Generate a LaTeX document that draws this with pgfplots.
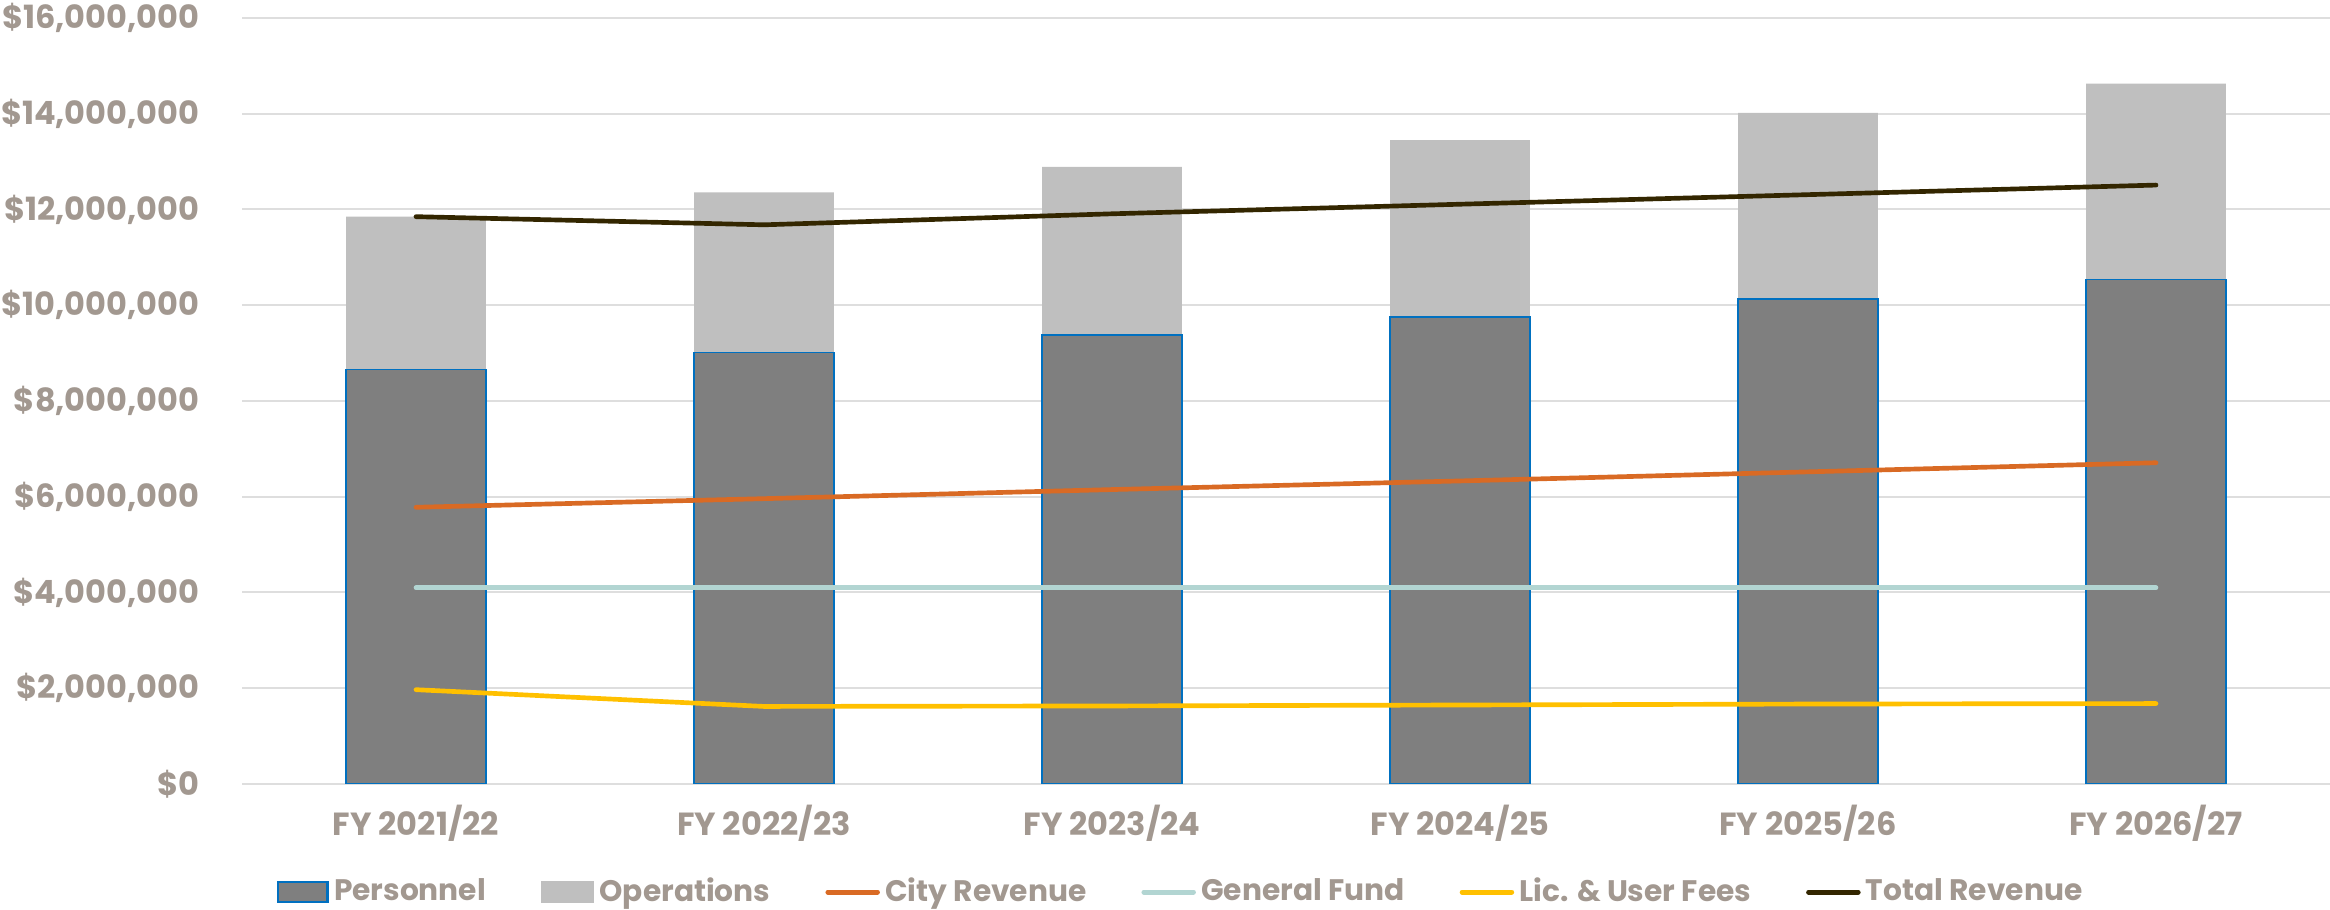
\documentclass[border=0pt]{standalone}
\usepackage{fontspec}
\setmainfont{Poppins}
\usepackage{pgfplots}
\usepackage{pgfplotstable}
\pgfplotsset{compat=1.18}
\definecolor{tickc}{RGB}{162,152,144}
\definecolor{gridc}{RGB}{222,222,222}
\definecolor{persc}{RGB}{127,127,127}
\definecolor{opsc}{RGB}{191,191,191}
\definecolor{bluec}{RGB}{0,112,192}
\definecolor{cityc}{RGB}{217,106,36}
\definecolor{genc}{RGB}{178,213,210}
\definecolor{licc}{RGB}{255,192,0}
\definecolor{totc}{RGB}{51,38,0}
\pgfplotstableread{
x P O City Gen Lic Tot
0 8660000 3190000 5780000 4100000 1970000 11850000
1 9010000 3350000 5960000 4100000 1620000 11680000
2 9380000 3510000 6150000 4100000 1630000 11910000
3 9750000 3700000 6330000 4100000 1650000 12110000
4 10130000 3890000 6520000 4100000 1670000 12310000
5 10540000 4090000 6710000 4100000 1680000 12510000
}\data
\begin{document}
\begin{tikzpicture}
\useasboundingbox (0,0) rectangle (699pt,273pt);
\begin{axis}[
  at={(72.6pt,37.8pt)}, anchor=south west,
  scale only axis, width=626.4pt, height=229.8pt,
  xmin=-0.5, xmax=5.5, ymin=0, ymax=16000000,
  axis line style={draw=none},
  tick style={draw=none}, major tick length=0pt,
  ymajorgrids, grid style={gridc, line width=0.6pt},
  xtick={0,...,5},
  xticklabels={FY 2021/22,FY 2022/23,FY 2023/24,FY 2024/25,FY 2025/26,FY 2026/27},
  ytick={0,2000000,4000000,6000000,8000000,10000000,12000000,14000000,16000000},
  yticklabels={{\$0},{\$2,000,000},{\$4,000,000},{\$6,000,000},{\$8,000,000},{\$10,000,000},{\$12,000,000},{\$14,000,000},{\$16,000,000}},
  scaled y ticks=false,
  yticklabel style={font=\bfseries\fontsize{9.6}{11}\selectfont, color=tickc, inner sep=0pt, anchor=east},
  yticklabel shift=12.6pt,
  xticklabel style={font=\bfseries\fontsize{9.6}{11}\selectfont, color=tickc, inner sep=0pt, anchor=north},
  xticklabel shift=6pt,
  legend columns=6,
  legend style={at={(0.449,-0.141)}, anchor=center, draw=none, fill=none,
    font=\bfseries\fontsize{8.9}{11}\selectfont, text=tickc,
    nodes={inner sep=0pt},
    /tikz/every odd column/.append style={column sep=1.6pt},
    /tikz/every even column/.append style={column sep=16.5pt}},
]
\addplot[ybar, bar width=41.9pt, bar shift=0pt, fill=opsc, draw=none, forget plot]
  table[x=x, y expr=\thisrow{P}+\thisrow{O}] {\data};
\addplot[ybar, bar width=41.9pt, bar shift=0pt, fill=persc, draw=bluec, line width=0.5pt, forget plot]
  table[x=x, y=P] {\data};
\addplot[genc, line width=1.4pt, line cap=round, forget plot] table[x=x, y=Gen] {\data};
\addplot[licc, line width=1.4pt, line cap=round, forget plot] table[x=x, y=Lic] {\data};
\addplot[cityc, line width=1.4pt, line cap=round, forget plot] table[x=x, y=City] {\data};
\addplot[totc, line width=1.4pt, line cap=round, forget plot] table[x=x, y=Tot] {\data};

\addlegendimage{legend image code/.code={\draw[fill=persc, draw=bluec, line width=0.8pt] (0.4pt,-3pt) rectangle (15.2pt,3pt);}}
\addlegendentry{Personnel}
\addlegendimage{legend image code/.code={\fill[opsc] (0pt,-3pt) rectangle (15.6pt,3pt);}}
\addlegendentry{Operations}
\addlegendimage{legend image code/.code={\draw[cityc, line width=1.5pt, line cap=round] (0.75pt,0pt) -- (15.6pt,0pt);}}
\addlegendentry{City Revenue}
\addlegendimage{legend image code/.code={\draw[genc, line width=1.5pt, line cap=round] (0.75pt,0pt) -- (15.6pt,0pt);}}
\addlegendentry{General Fund}
\addlegendimage{legend image code/.code={\draw[licc, line width=1.5pt, line cap=round] (0.75pt,0pt) -- (15.6pt,0pt);}}
\addlegendentry{Lic. \& User Fees}
\addlegendimage{legend image code/.code={\draw[totc, line width=1.5pt, line cap=round] (0.75pt,0pt) -- (15.6pt,0pt);}}
\addlegendentry{Total Revenue}
\end{axis}
\end{tikzpicture}
\end{document}
